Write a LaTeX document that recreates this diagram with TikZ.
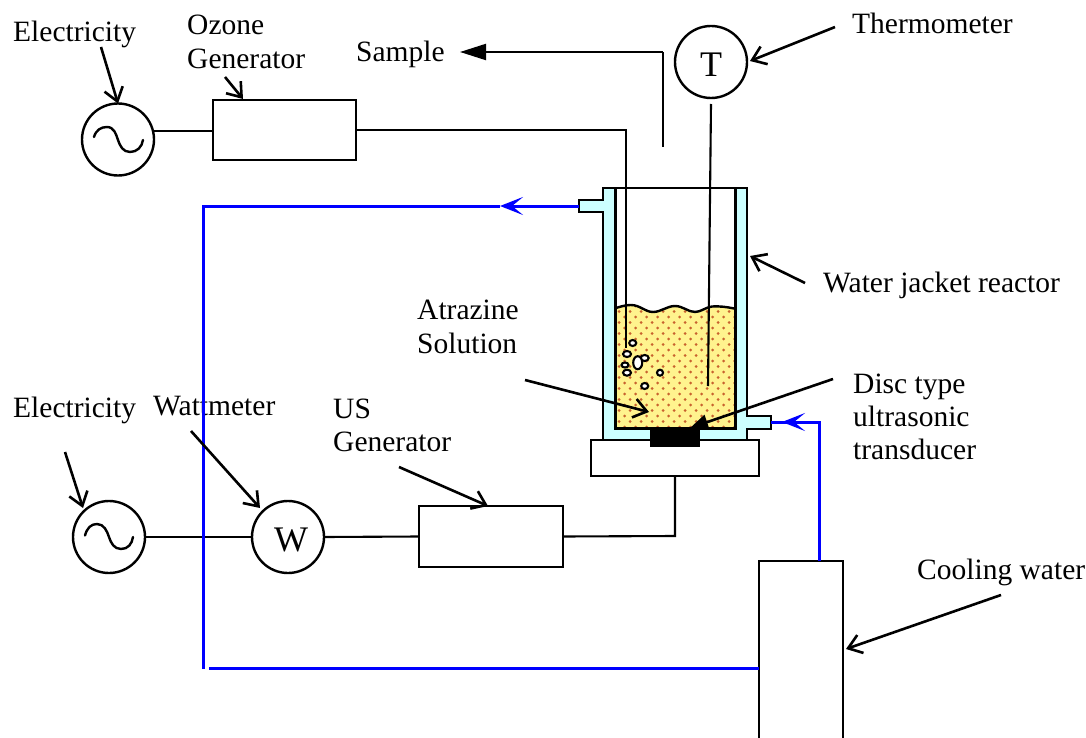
\documentclass[tikz,border=0pt]{standalone}
\usepackage{fontspec}
\setmainfont{Liberation Serif}
\usetikzlibrary{arrows.meta,calc}
\definecolor{jacket}{HTML}{CCFFFF}
\definecolor{liquid}{HTML}{FFF38E}
\definecolor{speck}{HTML}{C8622E}
\definecolor{coolblue}{HTML}{0000FF}
\tikzset{
  wire/.style={draw=black,line width=2.1pt},
  coolant/.style={draw=coolblue,line width=3pt},
  unit/.style={draw=black,line width=2.1pt,fill=white,rectangle,inner sep=0pt,outer sep=0pt,anchor=north west},
  meter/.style={draw=black,line width=2.4pt,fill=white,circle,inner sep=0pt,outer sep=0pt,minimum size=72pt},
  label/.style={anchor=base west,inner sep=0pt,font=\fontsize{29.5}{29.5}\selectfont},
  letter/.style={inner sep=0pt,font=\fontsize{36}{36}\selectfont,anchor=base},
  pointer/.style={draw=black,line width=2.6pt,-{Straight Barb[length=13pt,width=19pt,line width=2.6pt]}},
  solidtip/.style={draw=black,line width=2.1pt,-{Triangle[length=26pt,width=16pt]}},
  disctip/.style={draw=black,line width=2.6pt,-{Triangle[length=18pt,width=15pt]}},
  flowtip/.style={draw=coolblue,line width=3pt,-{Stealth[length=23pt,width=18pt,inset=11pt]}},
  bubble/.style={draw=black,line width=2.1pt,fill=white},
}
\begin{document}
\begin{tikzpicture}[x=1pt,y=-1pt]
\useasboundingbox (0,0) rectangle (1086,738);
% reactor body
\coordinate (outport) at (579,206);
\coordinate (inport) at (771,422);
\fill[jacket]
  (603,188) -- (747,188) -- (747,416) -- (771,416) -- (771,429) -- (747,429)
  -- (747,440) -- (603,440) -- (603,212) -- (579,212) -- (579,200) -- (603,200) -- cycle;
\fill[white] (615,188) rectangle (735,428);
% liquid with speckles
\path[fill=liquid] (616,428) -- (616,308) .. controls (622,306) and (627,305) .. (631,305)
  .. controls (640,305) and (645,312) .. (653,312)
  .. controls (661,312) and (667,306) .. (675,306)
  .. controls (683,306) and (688,312) .. (695,312)
  .. controls (701,312) and (706,307) .. (712,306.5)
  .. controls (720,306) and (727,307) .. (734,308.5) -- (734,428) -- cycle;
\begin{scope}
  \clip (616,428) -- (616,308) .. controls (622,306) and (627,305) .. (631,305)
  .. controls (640,305) and (645,312) .. (653,312)
  .. controls (661,312) and (667,306) .. (675,306)
  .. controls (683,306) and (688,312) .. (695,312)
  .. controls (701,312) and (706,307) .. (712,306.5)
  .. controls (720,306) and (727,307) .. (734,308.5) -- (734,428) -- cycle;
  \foreach \r in {0,...,23}{
    \foreach \c in {0,...,11}{
      \pgfmathsetmacro{\px}{619+\c*11+mod(\r,2)*5.5}
      \pgfmathsetmacro{\py}{300.5+\r*5.5}
      \fill[speck] (\px,\py) circle (1.5pt);
    }
  }
\end{scope}
\draw[black,line width=2.4pt] (616,308) .. controls (622,306) and (627,305) .. (631,305)
  .. controls (640,305) and (645,312) .. (653,312)
  .. controls (661,312) and (667,306) .. (675,306)
  .. controls (683,306) and (688,312) .. (695,312)
  .. controls (701,312) and (706,307) .. (712,306.5)
  .. controls (720,306) and (727,307) .. (734,308.5);
\draw[black,line width=2.1pt,line join=miter]
  (603,188) -- (747,188) -- (747,416) -- (771,416) -- (771,429) -- (747,429)
  -- (747,440) -- (603,440) -- (603,212) -- (579,212) -- (579,200) -- (603,200) -- cycle;
\draw[black,line width=3pt,line join=miter] (615.5,188) -- (615.5,428) -- (735,428) -- (735,188);
% base and disc
\node[unit,minimum width=168pt,minimum height=36pt] (base) at (591,440) {};
\node[fill=black,inner sep=0pt,outer sep=0pt,anchor=north west,minimum width=50pt,minimum height=20pt] (disc) at (650,427) {};
% units
\node[unit,minimum width=143pt,minimum height=60pt] (ozone) at (213,100) {};
\node[unit,minimum width=144pt,minimum height=61pt] (usgen) at (419,506) {};
\node[unit,minimum width=84pt,minimum height=200pt] (cooler) at (759,561) {};
\node[meter] (srcA) at (118,139.5) {};
\node[meter] (srcB) at (109,537) {};
\node[meter] (wmeter) at (288,537) {};
\node[meter] (tmeter) at (711,62) {};
\node[letter] (tletter) at (711,77) {T};
\node[letter] (wletter) at (291,551) {W};
% sine symbols
\draw[black,line width=2.4pt,line cap=round] (94,137) .. controls (96,130) and (101,127) .. (107,127)
  .. controls (114,127) and (116,134) .. (118,140)
  .. controls (120,146) and (123,152) .. (130,152)
  .. controls (137,152) and (142,147) .. (143,140);
\draw[black,line width=2.4pt,line cap=round] (85,535.5) .. controls (87,528) and (91,524) .. (97,524)
  .. controls (104,524) and (107,531) .. (109,537)
  .. controls (111,543) and (114,549) .. (121,549)
  .. controls (128,549) and (132,544) .. (133,537);
% wiring
\coordinate (ozoneturn) at (626,130);
\coordinate (ozoneend) at (626,348);
\coordinate (thermoend) at (708,386);
\coordinate (baseturn) at (675,536);
\coordinate (sampleend) at (663,147);
\coordinate (sampleturn) at (663,52);
\coordinate (sampletip) at (460,52);
\draw[wire] (srcA.13) -- (ozone.west |- srcA.13);
\draw[wire,line join=miter] (ozone.east) -- (ozoneturn) -- (ozoneend);
\coordinate (thermotop) at (711,104);
\draw[wire] (thermotop) -- (thermoend);
\draw[wire] (srcB.east) -- (wmeter.west);
\draw[wire] (wmeter.east) -- (usgen.west);
\draw[wire,line join=miter] (usgen.east) -- (baseturn) -- (base.south -| baseturn);
\draw[wire] (sampleend) -- (sampleturn);
\draw[solidtip] (sampleturn) -- (sampletip);
% bubbles
\draw[bubble] (632.7,343) ellipse (3.5pt and 3pt);
\draw[bubble] (627,354) ellipse (4pt and 3pt);
\draw[bubble] (644.7,358) ellipse (4pt and 3pt);
\draw[bubble] (637.7,362.7) ellipse (4.5pt and 6.5pt);
\draw[bubble] (625,365) ellipse (3.5pt and 2.5pt);
\draw[bubble] (627,372.7) ellipse (4pt and 3pt);
\draw[bubble] (660,372.7) ellipse (3pt and 3pt);
\draw[bubble] (644.7,386) ellipse (3.5pt and 3pt);
% cooling circuit
\coordinate (bltop) at (203.5,206);
\coordinate (blbot) at (203.5,668.5);
\coordinate (blgap) at (209,668);
\coordinate (bltipA) at (500,206);
\coordinate (blturn) at (819,422);
\coordinate (bltipB) at (782,422);
\draw[flowtip] (outport) -- (bltipA);
\draw[coolant,line join=miter] (bltipA) -- (bltop) -- (blbot);
\draw[coolant] (blgap) -- (cooler.west |- blgap);
\draw[coolant,line join=miter] (cooler.north -| blturn) -- (blturn) -- (inport);
\draw[flowtip] (blturn) -- (bltipB);
% labels
\node[label] (lelecA) at (13,42) {Electricity};
\node[label] (lozoneA) at (187,35) {Ozone};
\node[label] (lozoneB) at (187,68.5) {Generator};
\node[label] (lsample) at (356,62) {Sample};
\node[label] (lthermo) at (852,34) {Thermometer};
\node[label] (ljacket) at (823,292) {Water jacket reactor};
\node[label] (latrA) at (417,319) {Atrazine};
\node[label] (latrB) at (417,353) {Solution};
\node[label] (ldiscA) at (853,393) {Disc type};
\node[label] (ldiscB) at (853,426) {ultrasonic};
\node[label] (ldiscC) at (853,459) {transducer};
\node[label] (lcool) at (917,579) {Cooling water};
\node[label] (lelecB) at (13,417) {Electricity};
\node[label] (lwatt) at (153,415) {Wattmeter};
\node[label] (lusA) at (333,418) {US};
\node[label] (lusB) at (333,451) {Generator};
% blue line passes over the Wattmeter label
\draw[coolant] (203.5,395) -- (203.5,480);
% pointers
\coordinate (pA) at (101,47);   \draw[pointer] (pA) -- (srcA.north);
\coordinate (pB) at (225,77);   \coordinate (pBe) at (243,99);  \draw[pointer] (pB) -- (pBe);
\coordinate (pC) at (835,27);   \coordinate (pCe) at (750,61);  \draw[pointer] (pC) -- (pCe);
\coordinate (pD) at (805,283);  \coordinate (pDe) at (750,256); \draw[pointer] (pD) -- (pDe);
\coordinate (pE) at (525,380);  \coordinate (pEe) at (649,412); \draw[pointer] (pE) -- (pEe);
\coordinate (pF) at (833,379);  \coordinate (pFe) at (690,428); \draw[disctip] (pF) -- (pFe);
\coordinate (pG) at (65,452);   \coordinate (pGe) at (83,508);  \draw[pointer] (pG) -- (pGe);
\coordinate (pH) at (191,431);  \coordinate (pHe) at (260,508); \draw[pointer] (pH) -- (pHe);
\coordinate (pI) at (399,467);  \coordinate (pIe) at (488,506); \draw[pointer] (pI) -- (pIe);
\coordinate (pJ) at (1001,595); \coordinate (pJe) at (846,649); \draw[pointer] (pJ) -- (pJe);
\end{tikzpicture}
\end{document}
